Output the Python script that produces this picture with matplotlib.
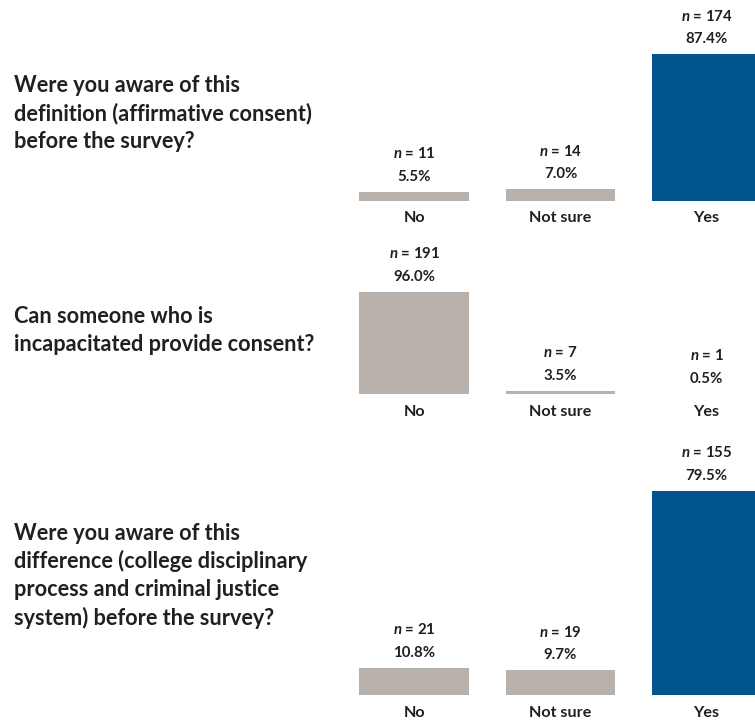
import matplotlib
matplotlib.use("Agg")
import matplotlib.pyplot as plt

plt.rcParams["font.family"] = ["Lato", "DejaVu Sans"]
plt.rcParams["mathtext.fontset"] = "custom"
plt.rcParams["mathtext.it"] = "Lato:bold:italic"
plt.rcParams["mathtext.rm"] = "Lato:bold"

# Survey answers
categories = ["No", "Not sure", "Yes"]
questions = [
    "Were you aware of this\ndefinition (affirmative consent)\nbefore the survey?",
    "Can someone who is\nincapacitated provide consent?",
    "Were you aware of this\ndifference (college disciplinary\nprocess and criminal justice\nsystem) before the survey?",
]
counts_q1 = [11, 14, 174]
pct_q1 = [5.5, 7.0, 87.4]
counts_q2 = [191, 7, 1]
pct_q2 = [96.0, 3.5, 0.5]
counts_q3 = [21, 19, 155]
pct_q3 = [10.8, 9.7, 79.5]
highlighted = ["Yes", None, "Yes"]

counts = [counts_q1, counts_q2, counts_q3]
pcts = [pct_q1, pct_q2, pct_q3]

BLUE = "#00558C"
GREY = "#B8B0AB"
INK = "#231F20"

W, H = 755, 726
fig = plt.figure(figsize=(W / 100, H / 100), dpi=100)

# panel layout in pixels: (baseline y, axis height for 0-100 %, first question line y)
panels = [
    (201.0, 167.8, 85.0),
    (394.3, 106.9, 316.5),
    (695.3, 257.4, 533.0),
]
ax_left, ax_right = 340.0, 755.0
line_step = 28.4

for qi, (base, hgt, qy) in enumerate(panels):
    ax = fig.add_axes([ax_left / W, 1 - base / H, (ax_right - ax_left) / W, hgt / H])
    vals = pcts[qi]
    colors = [BLUE if c == highlighted[qi] else GREY for c in categories]
    x = list(range(len(categories)))
    ax.bar(x, vals, width=0.753, color=colors)
    ax.set_xlim(-0.510, 2.332)
    ax.set_ylim(0, 100)
    ax.axis("off")
    for xi, (v, n) in enumerate(zip(vals, counts[qi])):
        ax.annotate(f"{v:.1f}%", (xi, v), xytext=(0, 10.8), textcoords="offset points",
                    ha="center", va="center", fontsize=10.8, fontweight="bold", color=INK)
        ax.annotate(f"$n$ = {n}", (xi, v), xytext=(0, 27.4), textcoords="offset points",
                    ha="center", va="center", fontsize=10.8, fontweight="bold", color=INK,
                    annotation_clip=False)
        ax.annotate(categories[xi], (xi, 0), xytext=(0, -12.6), textcoords="offset points",
                    ha="center", va="center", fontsize=11.6, fontweight="bold", color=INK,
                    annotation_clip=False)
    for li, line in enumerate(questions[qi].split("\n")):
        fig.text(14 / W, 1 - (qy + li * line_step) / H, line, ha="left", va="center",
                 fontsize=15.6, fontweight="bold", color=INK)

fig.savefig("out.png", dpi=100)
